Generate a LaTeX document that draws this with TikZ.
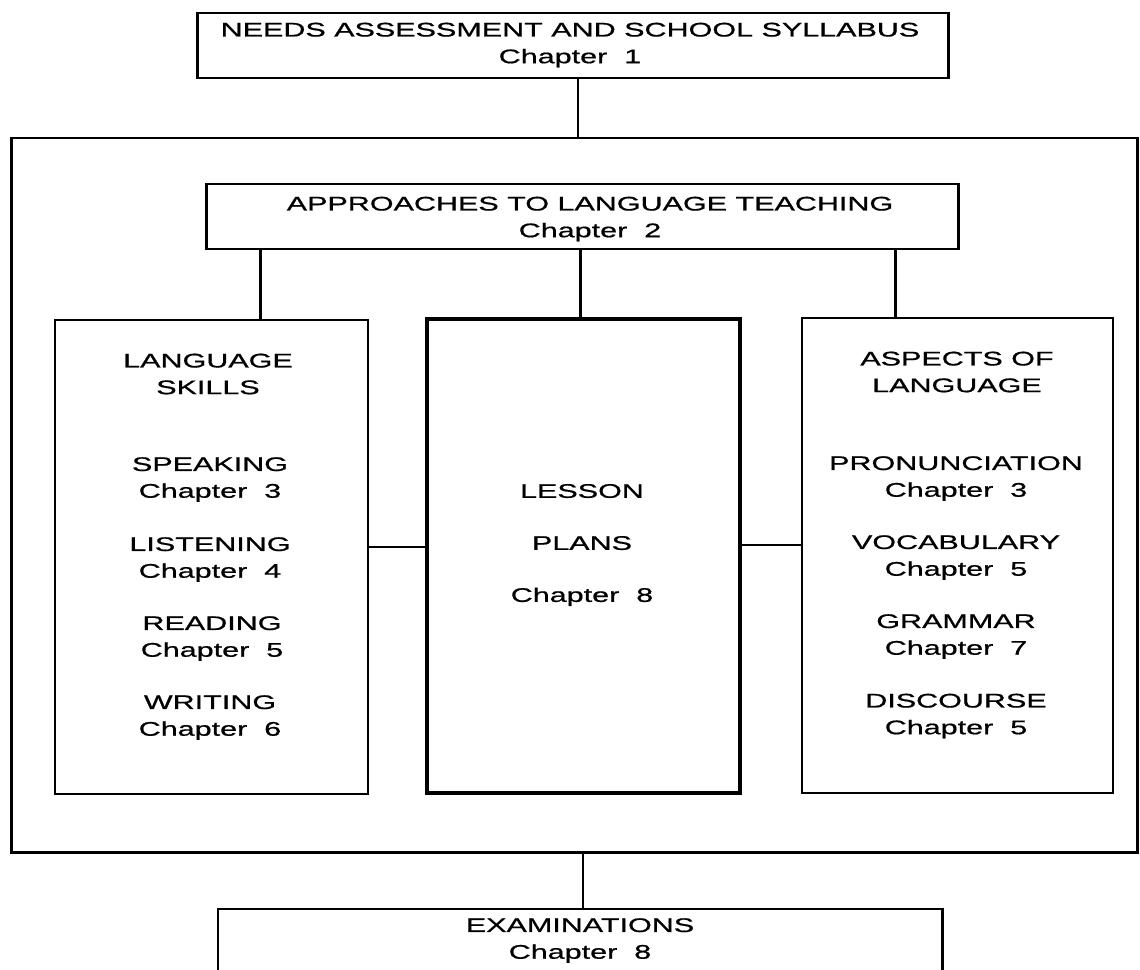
\documentclass[tikz,border=0pt]{standalone}
\usepackage{fontspec}
\newfontfamily\widesans[FakeStretch=1.55,FakeBold=0.8]{Liberation Sans}

\tikzset{
  box/.style={draw, line width=2pt, inner sep=0pt},
  link/.style={line width=1.8pt},
  lbl/.style={font=\widesans\fontsize{14}{19}\selectfont, align=center, inner sep=0pt},
}

\begin{document}
\begin{tikzpicture}[x=0.025cm, y=-0.025cm]
\clip (0,0) rectangle (1140,969);

% boxes
\node[box, minimum width=18.75cm, minimum height=1.625cm] (needs) at (573,45.5) {};
\node[box, minimum width=28.125cm, minimum height=17.85cm] (frame) at (574.5,495) {};
\node[box, minimum width=18.775cm, minimum height=1.625cm] (appr) at (582.5,216.5) {};
\node[box, minimum width=7.825cm, minimum height=11.85cm] (skills) at (211.5,557) {};
\node[box, line width=3.2pt, minimum width=7.825cm, minimum height=11.85cm] (lesson) at (583.5,556) {};
\node[box, minimum width=7.775cm, minimum height=11.875cm] (aspects) at (957.5,555.5) {};
\node[box, minimum width=18.1cm, minimum height=2cm] (exam) at (580,949) {};

% texts
\node[lbl] (needstxt) at (570,45) {NEEDS ASSESSMENT AND SCHOOL SYLLABUS\\Chapter~~1};
\node[lbl] (apprtxt) at (590,219) {APPROACHES TO LANGUAGE TEACHING\\Chapter~~2};

\node[lbl] (skillshead) at (208,374) {LANGUAGE\\SKILLS};
\node[lbl] (speak) at (210,479.5) {SPEAKING\\Chapter~~3};
\node[lbl] (listen) at (210,559.5) {LISTENING\\Chapter~~4};
\node[lbl] (read) at (212,638.5) {READING\\Chapter~~5};
\node[lbl] (write) at (210,717.5) {WRITING\\Chapter~~6};

\node[lbl] (lessontxt) at (582,545) {LESSON\\[18pt]PLANS\\[18pt]Chapter~~8};

\node[lbl] (aspectshead) at (957,372) {ASPECTS OF\\LANGUAGE};
\node[lbl] (pron) at (956,478.5) {PRONUNCIATION\\Chapter~~3};
\node[lbl] (vocab) at (956,557.5) {VOCABULARY\\Chapter~~5};
\node[lbl] (gram) at (956,636.5) {GRAMMAR\\Chapter~~7};
\node[lbl] (disc) at (956,716) {DISCOURSE\\Chapter~~5};

\node[lbl] (examtxt) at (580,940.5) {EXAMINATIONS\\Chapter~~8};

% connectors
\draw[link] (needs.south) ++(5,0) coordinate (n1) -- (n1 |- frame.north);
\draw[link] (appr.south west) ++(55,0) coordinate (a1) -- (a1 |- skills.north);
\draw[link] (appr.south) ++(-2,0) coordinate (a2) -- (a2 |- lesson.north);
\draw[link] (appr.south east) ++(-64,0) coordinate (a3) -- (a3 |- aspects.north);
\draw[link] (skills.east) ++(0,-10) coordinate (h1) -- (h1 -| lesson.west);
\draw[link] (lesson.east) ++(0,-11) coordinate (h2) -- (h2 -| aspects.west);
\draw[link] (exam.north) ++(3,0) coordinate (e1) -- (e1 |- frame.south);

\end{tikzpicture}
\end{document}
